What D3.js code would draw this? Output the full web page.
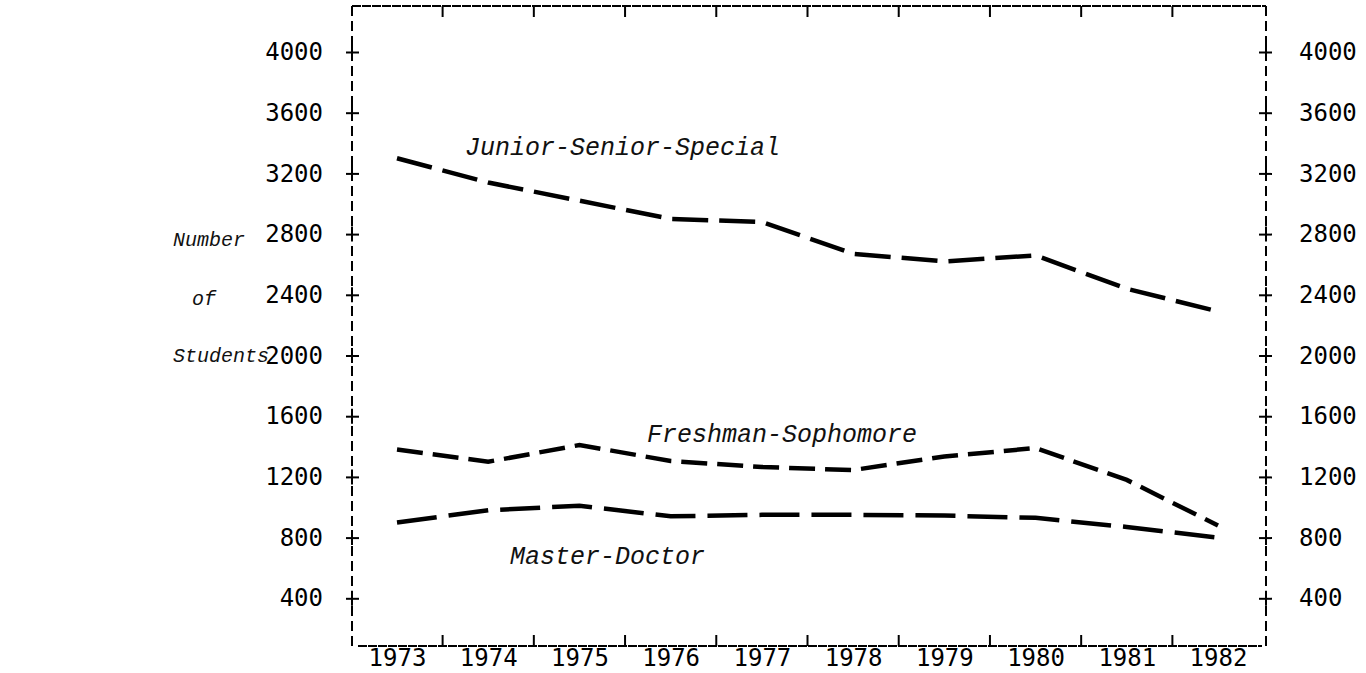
<!DOCTYPE html>
<html>
<head>
<meta charset="utf-8">
<script src="https://cdn.jsdelivr.net/npm/d3@7"></script>
<style>
  body { margin: 0; background: #fff; }
  svg { display: block; }
  .tick text { font-family: "DejaVu Sans Mono", monospace; font-size: 24px; fill: #000; }
  .lbl { font-family: "Liberation Mono", monospace; font-style: italic; fill: #111; }
</style>
</head>
<body>
<div id="chart"></div>
<script>
// data
const years = [1973, 1974, 1975, 1976, 1977, 1978, 1979, 1980, 1981, 1982];
const juniorSeniorSpecial = [3300, 3140, 3020, 2900, 2880, 2670, 2620, 2660, 2440, 2290];
const freshmanSophomore  = [1380, 1300, 1410, 1305, 1265, 1245, 1335, 1390, 1180, 880];
const masterDoctor       = [900, 980, 1010, 940, 950, 950, 945, 930, 870, 800];
const yTicks = [400, 800, 1200, 1600, 2000, 2400, 2800, 3200, 3600, 4000];

const W = 1366, H = 673;
const frame = { left: 352, right: 1266, top: 6, bottom: 646 };

const svg = d3.select("#chart").append("svg")
  .attr("width", W).attr("height", H);

const x = d3.scalePoint()
  .domain(years)
  .range([397, 1218]);

const y = d3.scaleLinear()
  .domain([0, 4000])
  .range([659, 52]);

// frame: dashed sides, rough solid top/bottom
svg.append("line").attr("x1", frame.left).attr("x2", frame.left)
  .attr("y1", frame.top).attr("y2", frame.bottom)
  .attr("stroke", "#000").attr("stroke-width", 2).attr("stroke-dasharray", "10 5");
svg.append("line").attr("x1", frame.right).attr("x2", frame.right)
  .attr("y1", frame.top).attr("y2", frame.bottom)
  .attr("stroke", "#000").attr("stroke-width", 2).attr("stroke-dasharray", "10 5");
svg.append("line").attr("x1", frame.left).attr("x2", frame.right)
  .attr("y1", frame.top).attr("y2", frame.top)
  .attr("stroke", "#000").attr("stroke-width", 2).attr("stroke-dasharray", "9 1");
svg.append("line").attr("x1", frame.left + 6).attr("x2", frame.right - 4)
  .attr("y1", frame.bottom).attr("y2", frame.bottom)
  .attr("stroke", "#000").attr("stroke-width", 2).attr("stroke-dasharray", "9 1");

// left axis with "+" ticks
const fmt = d3.format("d");
const leftAxis = svg.append("g")
  .attr("transform", `translate(${frame.left},0)`)
  .call(d3.axisLeft(y).tickValues(yTicks).tickFormat(fmt).tickSize(7).tickPadding(22));
leftAxis.select(".domain").remove();
leftAxis.selectAll(".tick line").attr("x1", -6).attr("x2", 7)
  .attr("stroke", "#000").attr("stroke-width", 2);
leftAxis.selectAll(".tick").append("line")
  .attr("x1", 0).attr("x2", 0).attr("y1", -8).attr("y2", 7)
  .attr("stroke", "#000").attr("stroke-width", 2);

const rightAxis = svg.append("g")
  .attr("transform", `translate(${frame.right},0)`)
  .call(d3.axisRight(y).tickValues(yTicks).tickFormat(fmt).tickSize(7).tickPadding(26));
rightAxis.select(".domain").remove();
rightAxis.selectAll(".tick line").attr("x1", -7).attr("x2", 6)
  .attr("stroke", "#000").attr("stroke-width", 2);
rightAxis.selectAll(".tick").append("line")
  .attr("x1", 0).attr("x2", 0).attr("y1", -8).attr("y2", 7)
  .attr("stroke", "#000").attr("stroke-width", 2);

// year labels
const bottomAxis = svg.append("g")
  .attr("transform", `translate(0,${frame.bottom})`)
  .call(d3.axisBottom(x).tickSize(0).tickFormat(fmt));
bottomAxis.select(".domain").remove();
bottomAxis.selectAll(".tick text").attr("y", 20).attr("dy", 0);

// ticks between years, top and bottom
const mids = years.slice(1).map((yr, i) => (x(years[i]) + x(yr)) / 2);
svg.selectAll(".btick").data(mids).enter().append("line")
  .attr("x1", d => d).attr("x2", d => d)
  .attr("y1", frame.bottom - 11).attr("y2", frame.bottom)
  .attr("stroke", "#000").attr("stroke-width", 2);
svg.selectAll(".ttick").data(mids).enter().append("line")
  .attr("x1", d => d).attr("x2", d => d)
  .attr("y1", frame.top).attr("y2", frame.top + 11)
  .attr("stroke", "#000").attr("stroke-width", 2);

// series
const line = d3.line()
  .x((d, i) => x(years[i]))
  .y(d => y(d));

const series = [
  { values: juniorSeniorSpecial, dash: "36 11" },
  { values: freshmanSophomore, dash: "26 10" },
  { values: masterDoctor, dash: "40 12" }
];
svg.selectAll(".series").data(series).enter().append("path")
  .attr("d", d => line(d.values))
  .attr("fill", "none")
  .attr("stroke", "#000")
  .attr("stroke-width", 4.5)
  .attr("stroke-dasharray", d => d.dash);

// series labels
svg.append("text").attr("class", "lbl").attr("x", 465).attr("y", 155)
  .style("font-size", "25px").text("Junior-Senior-Special");
svg.append("text").attr("class", "lbl").attr("x", 647).attr("y", 442)
  .style("font-size", "25px").text("Freshman-Sophomore");
svg.append("text").attr("class", "lbl").attr("x", 510).attr("y", 564)
  .style("font-size", "25px").text("Master-Doctor");

// y title
svg.append("text").attr("class", "lbl").attr("x", 173).attr("y", 246)
  .style("font-size", "20px").text("Number");
svg.append("text").attr("class", "lbl").attr("x", 192).attr("y", 305)
  .style("font-size", "20px").text("of");
svg.append("text").attr("class", "lbl").attr("x", 173).attr("y", 362)
  .style("font-size", "20px").text("Students");
</script>
</body>
</html>
